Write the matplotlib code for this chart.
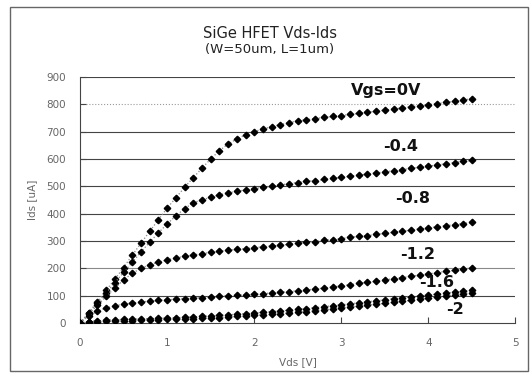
import matplotlib
matplotlib.use("Agg")
import matplotlib.pyplot as plt
from matplotlib.patches import Rectangle

vds = [round(0.1 * i, 1) for i in range(46)]

ids_vgs_0 = [0, 38, 78, 120, 160, 203, 248, 292, 335, 378, 420, 458, 496, 532, 566, 600,
             630, 655, 673, 689, 700, 710, 718, 726, 733, 740, 744, 748, 752, 756, 759,
             763, 767, 771, 775, 779, 783, 787, 791, 795, 799, 803, 807, 811, 816, 821]
ids_vgs_m04 = [0, 36, 73, 110, 148, 185, 222, 260, 296, 330, 362, 392, 418, 440, 450, 460,
               469, 476, 482, 487, 492, 496, 500, 505, 510, 514, 518, 521, 525, 529, 533,
               537, 541, 545, 549, 553, 557, 561, 566, 570, 574, 578, 583, 587, 591, 595]
ids_vgs_m08 = [0, 32, 65, 97, 128, 157, 182, 200, 213, 223, 231, 238, 244, 249, 254, 258,
               262, 266, 269, 272, 276, 279, 282, 285, 288, 292, 295, 298, 302, 305, 309,
               313, 317, 320, 324, 328, 332, 336, 340, 344, 348, 352, 356, 360, 364, 368]
ids_vgs_m12 = [0, 25, 43, 55, 63, 69, 73, 77, 80, 83, 85, 87, 89, 91, 93, 95,
               97, 99, 101, 103, 105, 107, 110, 112, 115, 118, 121, 124, 128, 132, 136,
               140, 145, 149, 153, 158, 162, 166, 171, 175, 180, 184, 189, 193, 197, 202]
ids_vgs_m16 = [0, 5, 8, 10, 12, 13, 14, 15, 16, 17, 18, 19, 21, 22, 24, 26,
               28, 30, 32, 34, 37, 39, 42, 44, 47, 50, 53, 56, 60, 63, 67,
               70, 74, 78, 81, 85, 89, 92, 96, 99, 102, 106, 109, 113, 116, 120]
ids_vgs_m20 = [0, 3, 5, 6, 7, 8, 9, 10, 11, 12, 13, 14, 15, 16, 17, 19,
               20, 22, 24, 26, 28, 30, 32, 34, 37, 39, 42, 45, 48, 51, 55,
               58, 62, 65, 69, 72, 76, 80, 83, 87, 91, 95, 99, 103, 107, 111]

series = [ids_vgs_0, ids_vgs_m04, ids_vgs_m08, ids_vgs_m12, ids_vgs_m16, ids_vgs_m20]
curve_labels = ["Vgs=0V", "-0.4", "-0.8", "-1.2", "-1.6", "-2"]
label_x = [3.52, 3.68, 3.82, 3.88, 4.09, 4.30]
label_y = [851, 644, 457, 251, 147, 48]

x_ticks = [0, 1, 2, 3, 4, 5]
y_ticks = [0, 100, 200, 300, 400, 500, 600, 700, 800, 900]

title = "SiGe HFET Vds-Ids"
subtitle = "(W=50um, L=1um)"

plt.rcParams['font.family'] = ['DejaVu Sans']

fig = plt.figure(figsize=(5.30, 3.74), dpi=100)
ax = fig.add_axes([0.151, 0.1364, 0.8216, 0.6577])

# outer chart border
fig.patches.append(Rectangle((10 / 530, 3 / 374), 518 / 530, 364 / 374, transform=fig.transFigure,
                             fill=False, edgecolor='#666666', linewidth=1.0))

grid_style = {800: ('#9a9a9a', ':'), 200: ('#8a8a8a', '-')}
for yv in y_ticks[1:]:
    c, ls = grid_style.get(yv, ('#444444', '-'))
    ax.axhline(yv, color=c, linestyle=ls, linewidth=0.8, zorder=1)

for ys in series:
    ax.plot(vds, ys, linestyle=':', color='#888888', linewidth=0.9,
            marker='D', markersize=3.3, markerfacecolor='black', markeredgecolor='black',
            zorder=3)

for lab, lx, ly in zip(curve_labels, label_x, label_y):
    ax.text(lx, ly, lab, ha='center', va='center', fontsize=11.5, fontweight='bold',
            color='#111111', zorder=4)

ax.set_xlim(0, 5)
ax.set_ylim(0, 900)
ax.set_xticks(x_ticks)
ax.set_yticks(y_ticks)
ax.tick_params(axis='both', direction='in', length=4, width=0.8, labelsize=7.5,
               labelcolor='#666666', color='#444444')
ax.tick_params(axis='y', pad=10)
ax.tick_params(axis='x', pad=11)
for s in ['top', 'right']:
    ax.spines[s].set_visible(False)
for s in ['left', 'bottom']:
    ax.spines[s].set_color('#444444')
    ax.spines[s].set_linewidth(0.8)

ax.set_xlabel("Vds [V]", fontsize=7.5, color='#666666', labelpad=6)
ax.set_ylabel("Ids [uA]", fontsize=7.5, color='#666666', labelpad=7)

fig.text(270 / 530, 1 - 33 / 374, title, ha='center', va='center', fontsize=10.5, color='#222222')
fig.text(270 / 530, 1 - 49 / 374, subtitle, ha='center', va='center', fontsize=9.5, color='#222222')

fig.savefig("out.png", dpi=100)
